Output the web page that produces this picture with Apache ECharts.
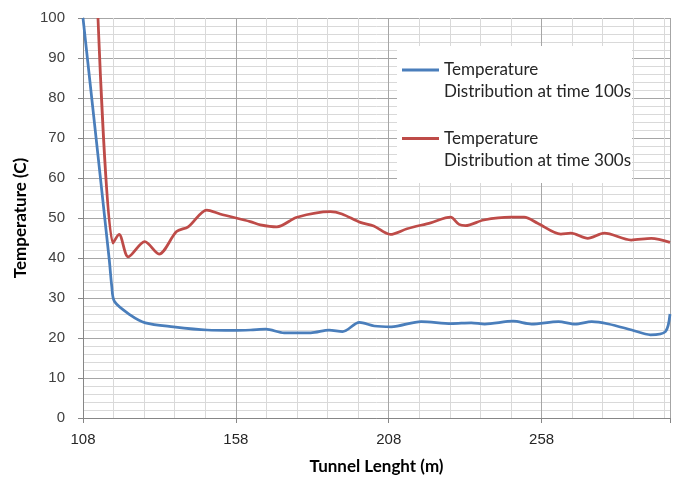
<!DOCTYPE html>
<html>
<head>
<meta charset="utf-8">
<script src="https://cdn.jsdelivr.net/npm/echarts@6/dist/echarts.min.js"></script>
<style>html,body{margin:0;padding:0;background:#fff}#c{width:677px;height:477px}</style>
</head>
<body>
<div id="c"></div>
<script>
// ---- data ----
var seriesNames = ['Temperature\nDistribution at time 100s', 'Temperature\nDistribution at time 300s'];
var xTickLabels = [108, 158, 208, 258];
var xBlue = [108, 116.6, 117.4, 118.3, 123.4, 128.4, 137.6, 148.6, 157.3, 162.8, 167.8, 173.8, 182.5, 188.5, 192.9, 198.4, 203.3, 208.8, 218.6, 228.5, 235.0, 239.4, 248.7, 254.7, 263.5, 269.0, 274.4, 279.9, 287.5, 293.6, 298.5, 300];
var yBlue = [100, 39.5, 33, 29.1, 25.8, 23.8, 22.8, 22.0, 21.9, 22.0, 22.2, 21.3, 21.3, 22.0, 21.6, 23.9, 23.0, 22.8, 24.1, 23.6, 23.8, 23.5, 24.2, 23.5, 24.1, 23.5, 24.1, 23.5, 22.0, 20.8, 21.6, 26];
var xRed = [112.9, 117.8, 119.8, 122.8, 128.2, 132.9, 138.6, 142.4, 148.5, 152.8, 162.7, 166.0, 171.4, 178.0, 188.9, 192.7, 198.7, 203.1, 208.5, 214.0, 221.7, 228.2, 231.0, 233.1, 239.1, 247.9, 252.3, 256.7, 264.3, 267.6, 273.1, 278.5, 287.3, 293.9, 300];
var yRed = [100, 43.7, 45.9, 40.3, 44.1, 41.0, 46.6, 47.8, 52.0, 51.0, 49.1, 48.3, 47.8, 50.2, 51.6, 51.0, 48.9, 48.0, 45.9, 47.3, 48.8, 50.2, 48.4, 48.1, 49.5, 50.2, 50.2, 48.7, 46.0, 46.2, 44.9, 46.2, 44.5, 44.9, 43.9];

function pairs(xs, ys) { return xs.map(function (x, i) { return [x, ys[i]]; }); }

var majorC = '#a6a6a6', minorC = '#d9d9d9', axisC = '#868686';
var chart = echarts.init(document.getElementById('c'));
chart.setOption({
  animation: false,
  backgroundColor: '#fff',
  grid: { left: 83, right: 7, top: 18, bottom: 59, containLabel: false, outerBoundsMode: 'none' },
  graphic: [{
    type: 'rect', z: 3,
    shape: { x: 397, y: 46, width: 235, height: 137 },
    style: { fill: '#ffffff' }
  }],
  legend: {
    orient: 'vertical', left: 402, top: 37, padding: 0,
    icon: 'rect', itemWidth: 37, itemHeight: 3, itemGap: 2.5,
    formatter: function (name) { return '\n' + name; },
    textStyle: { fontFamily: 'Lato', fontSize: 17, color: '#262626', lineHeight: 22 },
    data: seriesNames
  },
  xAxis: [{
    type: 'value', min: 108, max: 300, interval: 10, position: 'bottom',
    axisLine: { show: false }, axisTick: { show: false }, axisLabel: { show: false },
    splitLine: { show: true, lineStyle: { color: [majorC, minorC, minorC, minorC, minorC], width: 1 } }
  }, {
    type: 'value', min: 108, max: 300, interval: 50, position: 'bottom',
    name: 'Tunnel Lenght (m)', nameLocation: 'middle', nameGap: 40,
    nameTextStyle: { fontFamily: 'Lato', fontWeight: 'bold', fontSize: 17, color: '#000' },
    axisLine: { show: true, lineStyle: { color: axisC } },
    axisTick: { show: true, length: 5, lineStyle: { color: axisC } },
    axisLabel: { show: true, margin: 14, fontFamily: 'Liberation Sans', fontSize: 15, color: '#262626',
      formatter: function (v) { return xTickLabels.indexOf(Math.round(v)) >= 0 ? String(Math.round(v)) : ''; } },
    splitLine: { show: false }
  }],
  yAxis: {
    type: 'value', min: 0, max: 100, interval: 10,
    name: 'Temperature (C)', nameLocation: 'middle', nameGap: 51,
    nameTextStyle: { fontFamily: 'Lato', fontWeight: 'bold', fontSize: 17, color: '#000' },
    axisLine: { show: true, lineStyle: { color: axisC } },
    axisTick: { show: true, length: 5, lineStyle: { color: axisC } },
    axisLabel: { margin: 18, fontFamily: 'Liberation Sans', fontSize: 15, color: '#404040' },
    splitLine: { show: true, lineStyle: { color: majorC } },
    minorTick: { show: false, splitNumber: 5 },
    minorSplitLine: { show: true, lineStyle: { color: minorC } }
  },
  series: [{
    name: seriesNames[0], type: 'line', xAxisIndex: 0, showSymbol: false, symbol: 'none',
    smooth: 0.3, color: '#4a7ebb', lineStyle: { width: 2.75, color: '#4a7ebb' },
    data: pairs(xBlue, yBlue)
  }, {
    name: seriesNames[1], type: 'line', xAxisIndex: 0, showSymbol: false, symbol: 'none',
    smooth: 0.3, color: '#be4b48', lineStyle: { width: 2.75, color: '#be4b48' },
    data: pairs(xRed, yRed)
  }]
});
</script>
</body>
</html>
